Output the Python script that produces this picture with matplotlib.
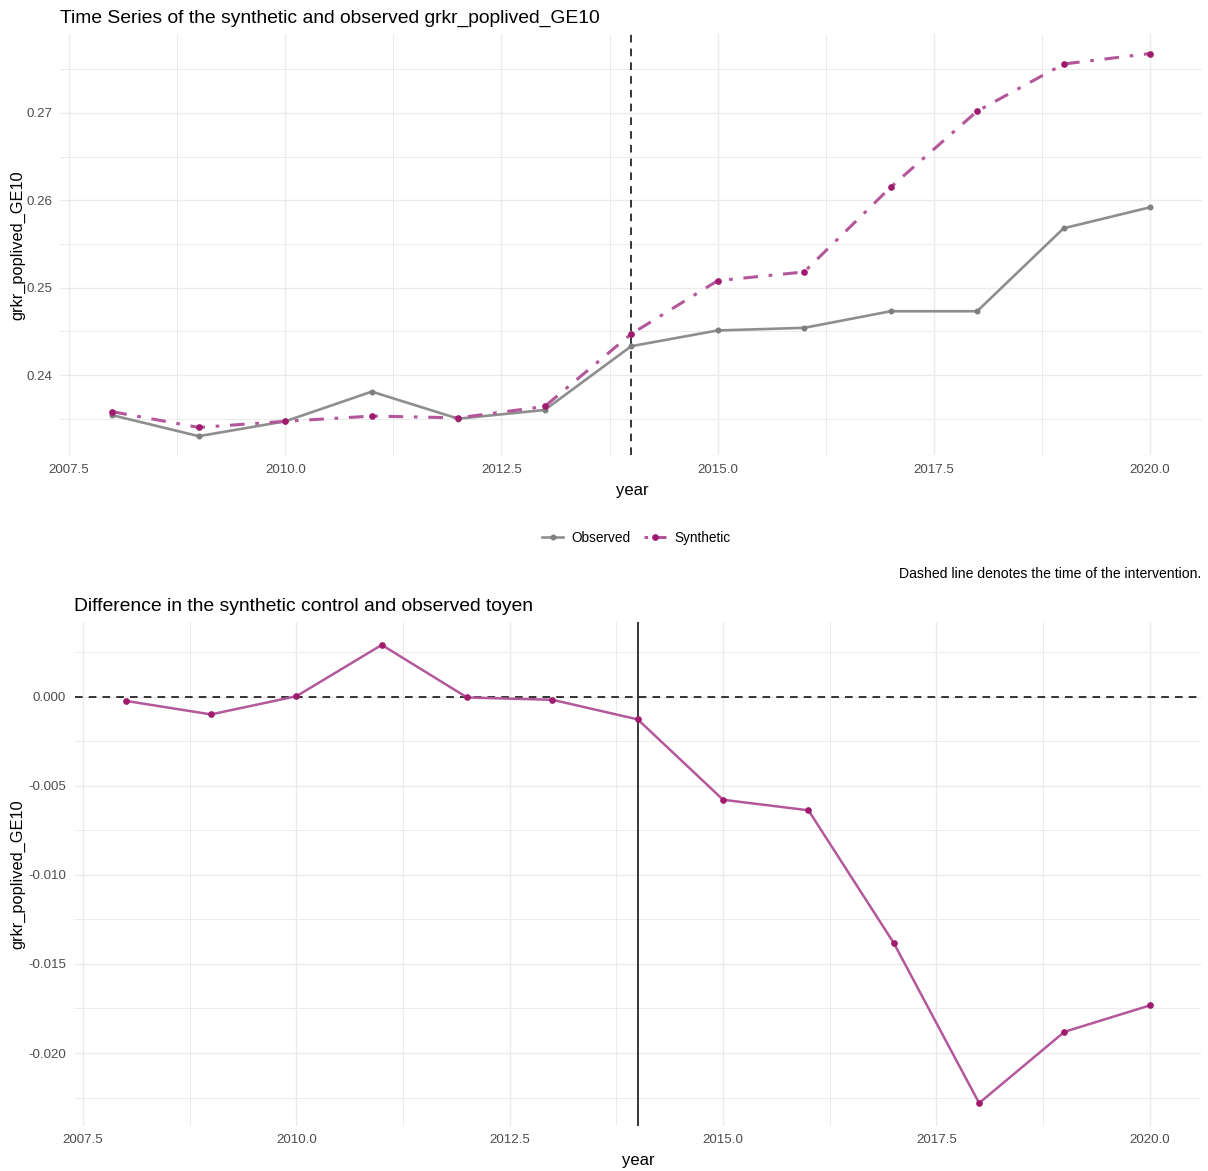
import matplotlib
matplotlib.use("Agg")
import matplotlib.pyplot as plt
from matplotlib.lines import Line2D
from matplotlib.ticker import MultipleLocator

plt.rcParams['font.family'] = ['Liberation Sans', 'DejaVu Sans']

# Data
years = [2008, 2009, 2010, 2011, 2012, 2013, 2014, 2015, 2016, 2017, 2018, 2019, 2020]
observed = [0.2354, 0.2330, 0.2347, 0.2381, 0.2350, 0.2360, 0.2433,
            0.2451, 0.2454, 0.2473, 0.2473, 0.2568, 0.2592]
synthetic = [0.2358, 0.2340, 0.2347, 0.2353, 0.2351, 0.2364, 0.2447,
             0.2508, 0.2518, 0.2615, 0.2702, 0.2756, 0.2768]
gap = [-0.00024, -0.00100, 0.00002, 0.00290, -0.00005, -0.00018, -0.00128,
       -0.00579, -0.00638, -0.01383, -0.02281, -0.01881, -0.01733]
intervention_year = 2014
x_ticks = [2007.5, 2010.0, 2012.5, 2015.0, 2017.5, 2020.0]
top_y_ticks = [0.24, 0.25, 0.26, 0.27]
bottom_y_ticks = [-0.020, -0.015, -0.010, -0.005, 0.000]

W, H = 1208, 1171
fig = plt.figure(figsize=(W / 100, H / 100), dpi=100)


def px_axes(left, top, right, bottom):
    return fig.add_axes([left / W, 1 - bottom / H, (right - left) / W, (bottom - top) / H])


GRID = '#EBEBEB'
TICK_C = '#4D4D4D'
OBS_C = '#8E8E8E'
SYN_LINE = '#B3579A'
SYN_PT = '#A01A6E'
GAP_LINE = '#B3589B'


def style(ax, yfmt):
    for s in ax.spines.values():
        s.set_visible(False)
    ax.set_xticks(x_ticks)
    ax.set_xticklabels([f"{v:.1f}" for v in x_ticks])
    ax.xaxis.set_minor_locator(MultipleLocator(1.25))
    ax.tick_params(which='both', length=0, labelsize=9.6, colors=TICK_C, pad=6)
    ax.grid(which='major', color=GRID, lw=1.0)
    ax.grid(which='minor', color=GRID, lw=0.7)
    ax.set_axisbelow(True)
    ax.yaxis.set_major_formatter(plt.FuncFormatter(lambda v, p: format(v, yfmt)))


def padded(lo, hi, frac=0.05):
    r = hi - lo
    return lo - r * frac, hi + r * frac


# Top panel: observed vs synthetic
ax1 = px_axes(60.4, 34.4, 1202, 455.3)
ax1.plot(years, observed, color=OBS_C, lw=1.9, zorder=3)
ax1.plot(years, observed, 'o', color='#7F7F7F', ms=3.3, zorder=4)
ax1.plot(years, synthetic, color=SYN_LINE, lw=2.2, dashes=(4.8, 3.5, 1.2, 3.5), zorder=3)
ax1.plot(years, synthetic, 'o', color=SYN_PT, ms=3.8, zorder=4)
ax1.axvline(intervention_year, color='black', lw=1.1, ls=(0, (5, 4)), zorder=2)
ax1.set_xlim(*padded(min(years), max(years)))
ax1.set_ylim(*padded(min(observed + synthetic), max(observed + synthetic)))
ax1.set_yticks(top_y_ticks)
ax1.yaxis.set_minor_locator(MultipleLocator(0.005))
style(ax1, '.2f')
ax1.set_title("Time Series of the synthetic and observed grkr_poplived_GE10",
              loc='left', fontsize=13.9, color='black', pad=8)

fig.text(632 / W, 1 - 491 / H, "year", ha='center', va='center', fontsize=12)
fig.text(18 / W, 1 - 245 / H, "grkr_poplived_GE10", ha='center', va='center',
         rotation=90, fontsize=11.8)

handles = [
    Line2D([], [], color=OBS_C, lw=1.9, marker='o', ms=3.3, mfc='#7F7F7F', mec='#7F7F7F'),
    Line2D([], [], color=SYN_LINE, lw=2.2, dashes=(1.2, 2.0, 4.5, 1.0),
           marker='o', ms=3.8, mfc=SYN_PT, mec=SYN_PT),
]
fig.legend(handles, ["Observed", "Synthetic"], loc='center',
           bbox_to_anchor=(636 / W, 1 - 538 / H), ncol=2, frameon=False,
           fontsize=9.8, handlelength=1.6, handletextpad=0.6, columnspacing=1.0)
fig.text(1201 / W, 1 - 574 / H, "Dashed line denotes the time of the intervention.",
         ha='right', va='center', fontsize=10.1)

# Bottom panel: gap between observed and synthetic
ax2 = px_axes(74.5, 622, 1201, 1126)
ax2.plot(years, gap, color=GAP_LINE, lw=1.8, zorder=3)
ax2.plot(years, gap, 'o', color=SYN_PT, ms=3.8, zorder=4)
ax2.axhline(0, color='black', lw=1.1, ls=(0, (5, 4)), zorder=2)
ax2.axvline(intervention_year, color='black', lw=1.1, zorder=2)
ax2.set_xlim(*padded(min(years), max(years)))
ax2.set_ylim(*padded(min(gap), max(gap)))
ax2.set_yticks(bottom_y_ticks)
ax2.yaxis.set_minor_locator(MultipleLocator(0.0025))
style(ax2, '.3f')
ax2.set_title("Difference in the synthetic control and observed toyen",
              loc='left', fontsize=13.9, color='black', pad=8)

fig.text(638 / W, 1 - 1161 / H, "year", ha='center', va='center', fontsize=12)
fig.text(18 / W, 1 - 874 / H, "grkr_poplived_GE10", ha='center', va='center',
         rotation=90, fontsize=11.8)

fig.savefig("out.png", dpi=100, facecolor='white')
